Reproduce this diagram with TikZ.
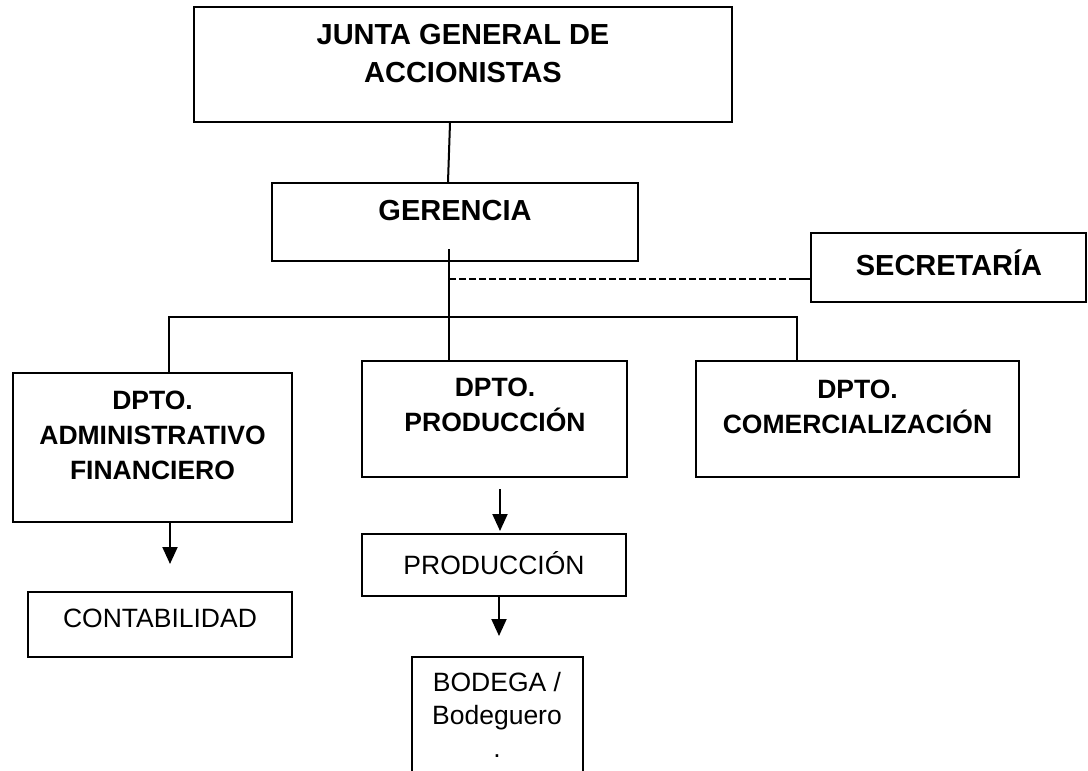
\documentclass[tikz,border=0pt]{standalone}
\usepackage{fontspec}
\setmainfont{Liberation Sans}
\usetikzlibrary{arrows.meta}

\begin{document}
\begin{tikzpicture}[x=1pt,y=-1pt,line width=2pt]
    \tikzstyle{box}=[draw,inner sep=0pt]
    \tikzstyle{bigtxt}=[align=center,inner sep=0pt,font=\fontsize{29}{38}\selectfont\bfseries]
    \tikzstyle{midtxt}=[align=center,inner sep=0pt,font=\fontsize{26.5}{35}\selectfont\bfseries]
    \tikzstyle{smtxt}=[align=center,inner sep=0pt,font=\fontsize{26.5}{33}\selectfont]
    \tikzstyle{arr}=[-{Triangle[width=15pt,length=17pt]}]
    \clip (0,0) rectangle (1088,771);
    \node[box,minimum width=538pt,minimum height=115pt] (B_junta) at (463,64.5) {};
    \node[box,minimum width=366pt,minimum height=78pt] (B_ger) at (455,222) {};
    \node[box,minimum width=275pt,minimum height=69pt] (B_secr) at (948.5,267.5) {};
    \node[box,minimum width=279pt,minimum height=149pt] (B_adm) at (152.5,447.5) {};
    \node[box,minimum width=265pt,minimum height=116pt] (B_dprod) at (494.5,419) {};
    \node[box,minimum width=323pt,minimum height=116pt] (B_com) at (857.5,419) {};
    \node[box,minimum width=264pt,minimum height=65pt] (B_con) at (160,624.5) {};
    \node[box,minimum width=264pt,minimum height=62pt] (B_prod) at (494,565) {};
    \node[box,minimum width=171pt,minimum height=140pt] (B_bod) at (497.5,727) {};
    \node[bigtxt] (T_junta) at (463,54) {JUNTA GENERAL DE\\ACCIONISTAS};
    \node[bigtxt] (T_ger) at (455,211) {GERENCIA};
    \node[bigtxt] (T_secr) at (949,263) {SECRETARÍA};
    \node[midtxt] (T_adm) at (152.5,435) {DPTO.\\ADMINISTRATIVO\\FINANCIERO};
    \node[midtxt] (T_dprod) at (495,405) {DPTO.\\PRODUCCIÓN};
    \node[midtxt] (T_com) at (857.5,407) {DPTO.\\COMERCIALIZACIÓN};
    \node[smtxt] (T_con) at (160,618) {CONTABILIDAD};
    \node[smtxt] (T_prod) at (494,563) {PRODUCCIÓN};
    \node[smtxt] (T_bod) at (497,714.5) {BODEGA /\\Bodeguero\\.};
    \coordinate (gv) at (449,249);
    \coordinate (sj) at (449,279);
    \coordinate (sk) at (792,279);
    \coordinate (hl) at (169,317);
    \coordinate (hr) at (797,317);
    \draw ([xshift=-13pt]B_junta.south) -- ([xshift=-7pt]B_ger.north);
    \draw (gv) -- (gv |- B_dprod.north);
    \draw[dashed,dash pattern=on 7pt off 3pt] (sj) -- (sk);
    \draw (sk) -- (sk -| B_secr.west);
    \draw (B_adm.north -| hl) -- (hl) -- (hr) -- (B_com.north -| hr);
    \draw[arr] ([xshift=17.5pt]B_adm.south) -- ([xshift=10pt,yshift=27pt]B_con.north);
    \draw[arr] ([xshift=5.5pt,yshift=-11pt]B_dprod.south) -- ([xshift=6pt,yshift=2pt]B_prod.north);
    \draw[arr] ([xshift=5pt]B_prod.south) -- ([xshift=1.5pt,yshift=20pt]B_bod.north);
\end{tikzpicture}
\end{document}
